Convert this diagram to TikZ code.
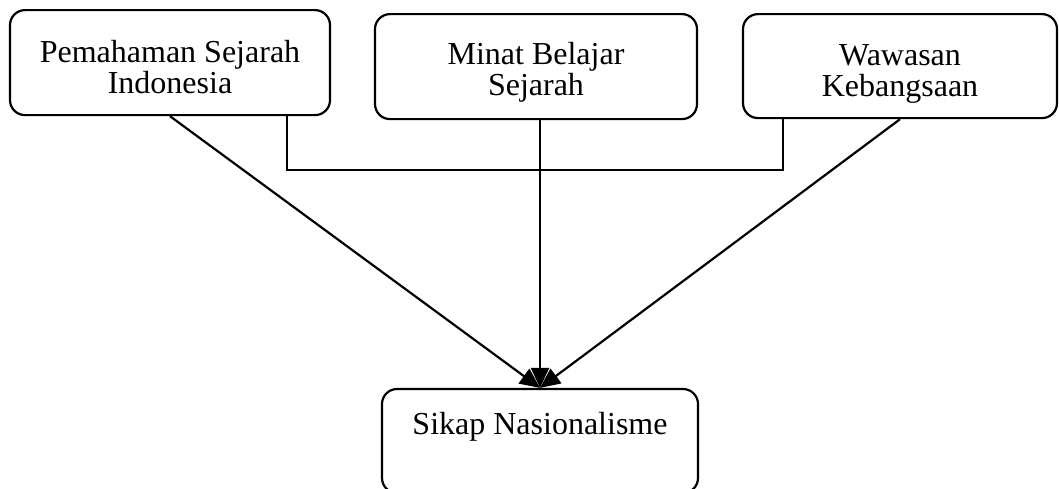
\documentclass[tikz,border=0pt]{standalone}
\usepackage{fontspec}
\setmainfont{Liberation Serif}
\usetikzlibrary{arrows.meta, positioning}

\tikzset{
	kotak/.style={draw, line width=1.1pt, rounded corners=7.5pt, align=center,
		font=\fontsize{16}{15.5}\selectfont, inner xsep=0pt, inner ysep=4pt, anchor=north},
	panah/.style={line width=1.1pt, -{Triangle[length=10pt,width=9pt]}}
}

\begin{document}
\begin{tikzpicture}[x=0.5pt, y=-0.5pt]
			\useasboundingbox (0,0) rectangle (1059,488);
			
			% Variabel bebas
			\node[kotak, minimum width=160pt, text height=37.5pt, text depth=7pt] (pemahaman) at (170,9) {Pemahaman Sejarah\\Indonesia};
			\node[kotak, minimum width=161pt, text height=36.5pt, text depth=8pt] (minat) at (536,13) {Minat Belajar\\Sejarah};
			\node[kotak, minimum width=157pt, text height=37pt, text depth=7pt] (wawasan) at (900,13) {Wawasan\\Kebangsaan};
			
			% Variabel terikat
			\node[kotak, anchor=base, minimum width=158pt, text height=12pt, text depth=19pt, inner ysep=10.5pt] (sikap) at (540,434) {Sikap Nasionalisme};
			
			% Garis penghubung
			\coordinate (kiri) at (287,170);
			\coordinate (kanan) at (783,170);
			\draw[line width=1.1pt] (pemahaman.south -| kiri) -- (kiri) -- (kanan) -- (wawasan.south -| kanan);
			
			% Panah
			\draw[panah] (pemahaman.south) -- (sikap.north);
			\draw[panah] (minat.south -| sikap.north) -- (sikap.north);
			\draw[panah] (wawasan.south) -- (sikap.north);
\end{tikzpicture}
\end{document}
